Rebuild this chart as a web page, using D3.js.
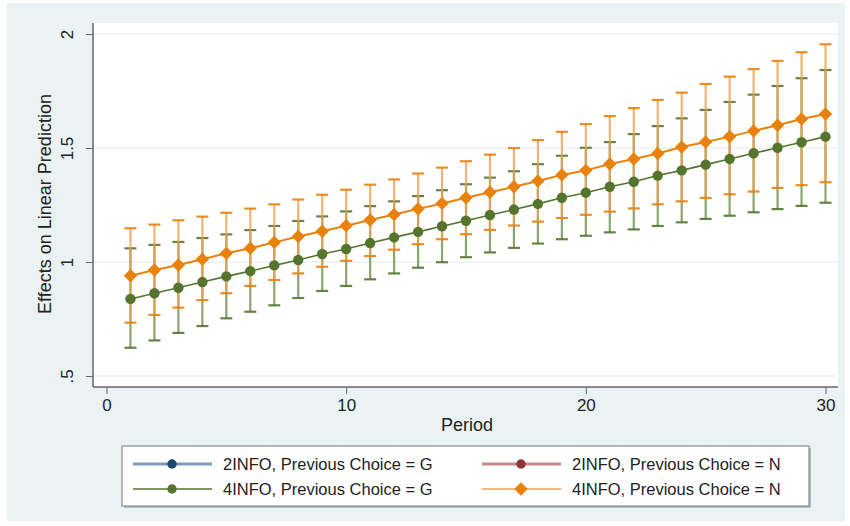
<!DOCTYPE html>
<html>
<head>
<meta charset="utf-8">
<script src="https://cdn.jsdelivr.net/npm/d3@7"></script>
<style>
  body { margin: 0; background: #fff; }
  text { font-family: "Liberation Sans", Arial, sans-serif; fill: #222; }
</style>
</head>
<body>
<div id="wrapper"></div>
<script>
// data
const periods = d3.range(1, 31);

const greenMid = [0.838, 0.863, 0.887, 0.912, 0.937, 0.960, 0.985, 1.009, 1.035, 1.057,
  1.083, 1.108, 1.132, 1.157, 1.181, 1.206, 1.230, 1.255, 1.282, 1.304,
  1.330, 1.352, 1.379, 1.402, 1.427, 1.452, 1.477, 1.501, 1.525, 1.550];
const greenLo = [0.624, 0.656, 0.689, 0.719, 0.753, 0.782, 0.810, 0.842, 0.873, 0.895,
  0.924, 0.950, 0.975, 0.999, 1.021, 1.042, 1.062, 1.081, 1.100, 1.115,
  1.130, 1.143, 1.158, 1.174, 1.189, 1.203, 1.218, 1.232, 1.246, 1.260];
const greenHi = [1.060, 1.075, 1.088, 1.105, 1.121, 1.140, 1.158, 1.180, 1.200, 1.222,
  1.245, 1.266, 1.289, 1.315, 1.341, 1.370, 1.398, 1.429, 1.466, 1.501,
  1.526, 1.561, 1.596, 1.630, 1.667, 1.702, 1.734, 1.772, 1.806, 1.842];

const orangeMid = [0.940, 0.965, 0.987, 1.012, 1.038, 1.060, 1.086, 1.112, 1.135, 1.159,
  1.184, 1.208, 1.233, 1.257, 1.282, 1.306, 1.330, 1.355, 1.382, 1.402,
  1.430, 1.452, 1.476, 1.504, 1.526, 1.550, 1.575, 1.600, 1.627, 1.649];
const orangeLo = [0.734, 0.768, 0.800, 0.833, 0.863, 0.895, 0.921, 0.950, 0.979, 1.005,
  1.026, 1.054, 1.078, 1.100, 1.122, 1.141, 1.160, 1.177, 1.193, 1.207,
  1.221, 1.235, 1.253, 1.266, 1.281, 1.297, 1.309, 1.325, 1.337, 1.350];
const orangeHi = [1.148, 1.164, 1.183, 1.199, 1.216, 1.234, 1.253, 1.274, 1.295, 1.317,
  1.339, 1.362, 1.388, 1.414, 1.442, 1.471, 1.500, 1.535, 1.571, 1.605,
  1.640, 1.675, 1.711, 1.743, 1.781, 1.813, 1.846, 1.882, 1.920, 1.955];

const xTicks = [0, 10, 20, 30];
const yTicks = [0.5, 1, 1.5, 2];
const yTickLabels = [".5", "1", "1.5", "2"];

const legendLabels = ["2INFO, Previous Choice = G", "2INFO, Previous Choice = N",
  "4INFO, Previous Choice = G", "4INFO, Previous Choice = N"];
const legendColors = ["#1A476F", "#90353B", "#55752F", "#E8820C"];
const legendLineColors = ["#7F9AB6", "#C48A8E", "#55752F", "#F0A050"];

// layout
const width = 850, height = 526;
const plot = { left: 93, right: 838, top: 23, bottom: 387 };

const svg = d3.select("#wrapper")
  .append("svg")
  .attr("width", width)
  .attr("height", height);

svg.append("rect")
  .attr("x", 7).attr("y", 3)
  .attr("width", 838).attr("height", 518)
  .attr("fill", "#EAF2F3");

svg.append("rect")
  .attr("x", plot.left).attr("y", plot.top)
  .attr("width", plot.right - plot.left).attr("height", plot.bottom - plot.top)
  .attr("fill", "#fff");

const x = d3.scaleLinear().domain([0, 30]).range([106.5, 825.5]);
const y = d3.scaleLinear().domain([0.5, 2]).range([376, 34]);

// diamond = square turned 45 degrees
const diamond = size => d3.symbol().type(d3.symbolSquare).size(size);

// grid
svg.append("g")
  .selectAll("line")
  .data(yTicks)
  .join("line")
  .attr("x1", plot.left).attr("x2", plot.right)
  .attr("y1", d => y(d)).attr("y2", d => y(d))
  .attr("stroke", "#EAF2F3")
  .attr("stroke-width", 1.5);

// axes
const yAxis = svg.append("g")
  .attr("transform", `translate(${plot.left},0)`)
  .call(d3.axisLeft(y).tickValues(yTicks).tickSize(7).tickPadding(0).tickFormat((d, i) => yTickLabels[i]));
yAxis.select(".domain").attr("d", `M0,${plot.top}V${plot.bottom}`).attr("stroke", "#666").attr("stroke-width", 1.5);
yAxis.selectAll(".tick line").attr("stroke", "#666");
yAxis.selectAll(".tick text")
  .attr("x", 0).attr("y", 0)
  .attr("transform", "translate(-26,0) rotate(-90)")
  .attr("text-anchor", "middle")
  .attr("dy", "0.35em")
  .attr("font-size", 17)
  .attr("font-family", "Liberation Sans, Arial, sans-serif")
  .attr("fill", "#222");

const xAxis = svg.append("g")
  .attr("transform", `translate(0,${plot.bottom})`)
  .call(d3.axisBottom(x).tickValues(xTicks).tickSize(7).tickPadding(5));
xAxis.select(".domain").attr("d", `M${plot.left},0H${plot.right}`).attr("stroke", "#666").attr("stroke-width", 1.5);
xAxis.selectAll(".tick line").attr("stroke", "#666");
xAxis.selectAll(".tick text")
  .attr("font-size", 17)
  .attr("font-family", "Liberation Sans, Arial, sans-serif")
  .attr("fill", "#222");

svg.append("text")
  .attr("x", 467).attr("y", 431)
  .attr("text-anchor", "middle")
  .attr("font-size", 18)
  .text("Period");

svg.append("text")
  .attr("transform", "translate(51,204) rotate(-90)")
  .attr("text-anchor", "middle")
  .attr("font-size", 18)
  .text("Effects on Linear Prediction");

// series
const series = [
  { mid: greenMid, lo: greenLo, hi: greenHi, color: "#55752F", bar: "#6E8E4A", shape: "circle" },
  { mid: orangeMid, lo: orangeLo, hi: orangeHi, color: "#E8820C", bar: "#F0A04A", shape: "diamond" },
];

const capHalf = 6;
series.forEach(s => {
  const g = svg.append("g");
  const rows = periods.map((p, i) => ({ p, lo: s.lo[i], hi: s.hi[i] }));
  g.selectAll(".stem").data(rows).join("line")
    .attr("x1", d => x(d.p)).attr("x2", d => x(d.p))
    .attr("y1", d => y(d.lo)).attr("y2", d => y(d.hi))
    .attr("stroke", s.bar).attr("stroke-width", 2.2).attr("stroke-opacity", 0.8);
  ["lo", "hi"].forEach(k => {
    g.selectAll(".cap-" + k).data(rows).join("line")
      .attr("x1", d => x(d.p) - capHalf).attr("x2", d => x(d.p) + capHalf)
      .attr("y1", d => y(d[k])).attr("y2", d => y(d[k]))
      .attr("stroke", s.color).attr("stroke-width", 2.2).attr("stroke-opacity", 0.9);
  });
});

series.forEach(s => {
  const pts = periods.map((p, i) => [p, s.mid[i]]);
  svg.append("path")
    .datum(pts)
    .attr("fill", "none")
    .attr("stroke", s.color)
    .attr("stroke-width", s.shape === "diamond" ? 2 : 1.6)
    .attr("d", d3.line().x(d => x(d[0])).y(d => y(d[1])));
  const isDia = s.shape === "diamond";
  const sym = isDia ? diamond(90) : d3.symbol().type(d3.symbolCircle).size(85);
  svg.append("g").selectAll("path").data(pts).join("path")
    .attr("transform", d => `translate(${x(d[0])},${y(d[1])})` + (isDia ? " rotate(45)" : ""))
    .attr("d", sym)
    .attr("fill", s.color);
});

// legend
svg.append("rect")
  .attr("x", 124).attr("y", 448).attr("width", 687).attr("height", 60)
  .attr("fill", "#B8C0C4");
svg.append("rect")
  .attr("x", 122).attr("y", 446).attr("width", 687).attr("height", 60)
  .attr("fill", "#fff").attr("stroke", "#777").attr("stroke-width", 1);

const legendRows = [464, 489];
const legendCols = [133, 482];
legendLabels.forEach((label, i) => {
  const lx = legendCols[i % 2];
  const ly = legendRows[Math.floor(i / 2)];
  const thick = i < 2;
  svg.append("line")
    .attr("x1", lx).attr("x2", lx + 79)
    .attr("y1", ly).attr("y2", ly)
    .attr("stroke", legendLineColors[i])
    .attr("stroke-width", thick ? 3 : 1.6);
  const isDia = i === 3;
  svg.append("path")
    .attr("transform", `translate(${lx + 39},${ly})` + (isDia ? " rotate(45)" : ""))
    .attr("d", isDia ? diamond(90) : d3.symbol().type(d3.symbolCircle).size(70))
    .attr("fill", legendColors[i]);
  svg.append("text")
    .attr("x", lx + 90).attr("y", ly)
    .attr("dy", "0.35em")
    .attr("font-size", 16.5)
    .text(label);
});
</script>
</body>
</html>
